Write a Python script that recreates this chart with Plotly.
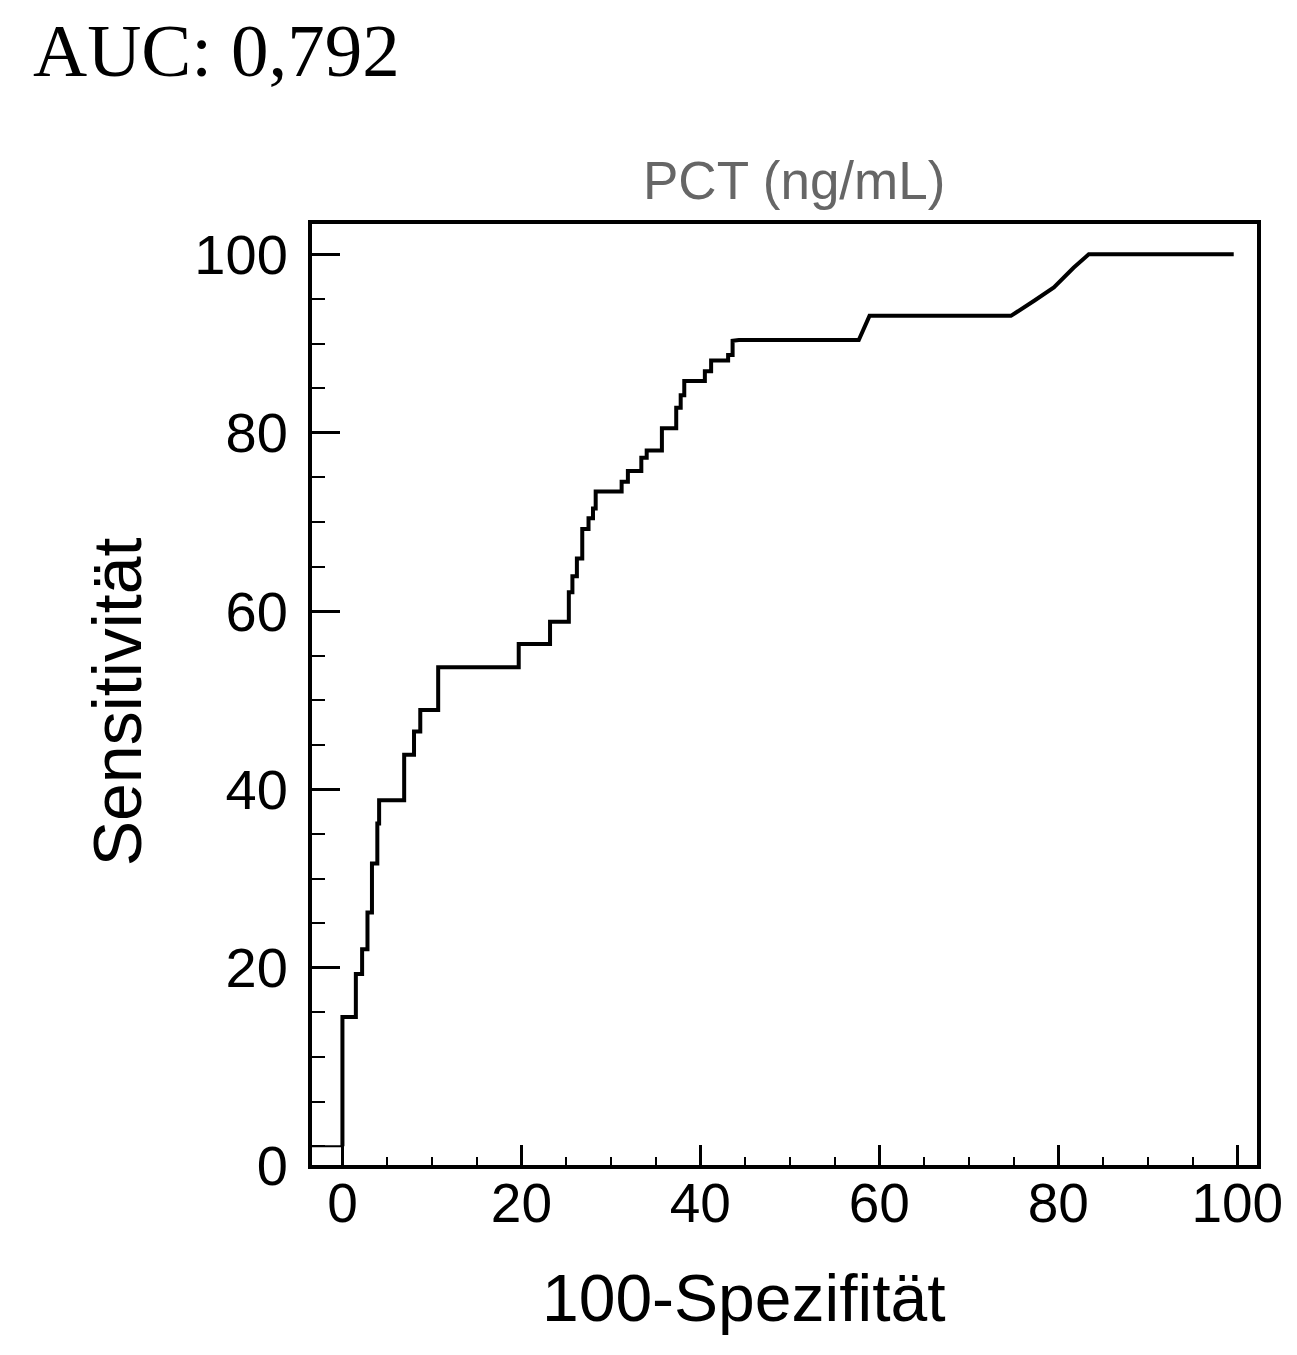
import plotly.graph_objects as go

# ROC curve for PCT (ng/mL)
fpr = [0, 0, 1.5, 1.5, 2.2, 2.2, 2.8, 2.8, 3.3, 3.3, 3.9, 3.9, 4.1, 4.1,
       6.9, 6.9, 8.0, 8.0, 8.7, 8.7, 10.7, 10.7, 19.7, 19.7, 23.2, 23.2,
       25.3, 25.3, 25.7, 25.7, 26.2, 26.2, 26.8, 26.8, 27.5, 27.5, 28.0, 28.0,
       28.3, 28.3, 31.2, 31.2, 31.9, 31.9, 33.4, 33.4, 34.0, 34.0, 35.7, 35.7,
       37.3, 37.3, 37.8, 37.8, 38.2, 38.2, 40.5, 40.5, 41.2, 41.2, 43.1, 43.1,
       43.6, 43.6, 44.3, 57.7, 58.9, 74.7, 77.3, 79.5, 81.7, 83.4, 99.6]
sens = [0, 14.5, 14.5, 19.3, 19.3, 22.1, 22.1, 26.2, 26.2, 31.7, 31.7, 36.2, 36.2, 38.8,
        38.8, 43.9, 43.9, 46.5, 46.5, 48.9, 48.9, 53.7, 53.7, 56.3, 56.3, 58.8,
        58.8, 62.1, 62.1, 63.9, 63.9, 65.9, 65.9, 69.2, 69.2, 70.4, 70.4, 71.5,
        71.5, 73.4, 73.4, 74.5, 74.5, 75.7, 75.7, 77.2, 77.2, 78.0, 78.0, 80.5,
        80.5, 82.8, 82.8, 84.2, 84.2, 85.8, 85.8, 86.9, 86.9, 88.1, 88.1, 88.7,
        88.7, 90.3, 90.4, 90.4, 93.1, 93.1, 94.8, 96.3, 98.5, 100, 100]

# little box at the origin seen in the scan
stub_x = [-3.4, 0, 0]
stub_y = [0, 0, -2.1]

x_range = [-3.4, 102.2]
y_range = [-2.1, 103.4]
x_ticks = [0, 20, 40, 60, 80, 100]
y_ticks = [0, 20, 40, 60, 80, 100]
y_ticktext = [str(v) for v in y_ticks]
# the "0" label sits at the bottom edge of the frame in the original
y_tickvals = [y_range[0]] + y_ticks[1:]

title_text = "PCT (ng/mL)"
auc_text = "AUC: 0,792"
x_title = "100-Spezifität"
y_title = "Sensitivität"

sans = "Arial, Liberation Sans, sans-serif"
serif = "Times New Roman, Liberation Serif, serif"

fig = go.Figure()
fig.add_trace(go.Scatter(x=stub_x, y=stub_y, mode='lines',
                         line=dict(color='black', width=2), hoverinfo='skip'))
fig.add_trace(go.Scatter(x=fpr, y=sens, mode='lines',
                         line=dict(color='black', width=4)))

axis_common = dict(showgrid=False, zeroline=False, showline=True, mirror=True,
                   linecolor='black', linewidth=4, ticks='inside',
                   tickcolor='black', tickwidth=3)

fig.update_xaxes(range=x_range, tickvals=x_ticks, ticklen=20,
                 ticklabelstandoff=-13,
                 tickfont=dict(family=sans, size=55, color='black'),
                 minor=dict(tick0=0, dtick=5, ticks='inside', ticklen=8,
                            tickwidth=2, tickcolor='black'),
                 **axis_common)
fig.update_yaxes(range=y_range, tickvals=y_tickvals, ticktext=y_ticktext,
                 ticklen=28, ticklabelstandoff=9,
                 tickfont=dict(family=sans, size=56, color='black'),
                 minor=dict(tick0=0, dtick=5, ticks='inside', ticklen=13,
                            tickwidth=2, tickcolor='black'),
                 **axis_common)

fig.add_annotation(text=title_text, xref='paper', yref='paper', x=0.51, y=1.046,
                   showarrow=False, xanchor='center', yanchor='middle',
                   font=dict(family=sans, size=53, color='#666666'))
fig.add_annotation(text=auc_text, xref='paper', yref='paper', x=-0.297, y=1.184,
                   showarrow=False, xanchor='left', yanchor='middle',
                   font=dict(family=serif, size=75, color='black'))
fig.add_annotation(text=x_title, xref='paper', yref='paper', x=0.457, y=-0.141,
                   showarrow=False, xanchor='center', yanchor='middle',
                   font=dict(family=sans, size=66, color='black'))
fig.add_annotation(text=y_title, xref='paper', yref='paper', x=-0.206, y=0.492,
                   showarrow=False, xanchor='center', yanchor='middle', textangle=-90,
                   font=dict(family=sans, size=68, color='black'))

fig.update_layout(width=1297, height=1355, showlegend=False,
                  margin=dict(l=304, r=48, t=216, b=198),
                  plot_bgcolor='white', paper_bgcolor='white')

fig.write_html("out.html")
